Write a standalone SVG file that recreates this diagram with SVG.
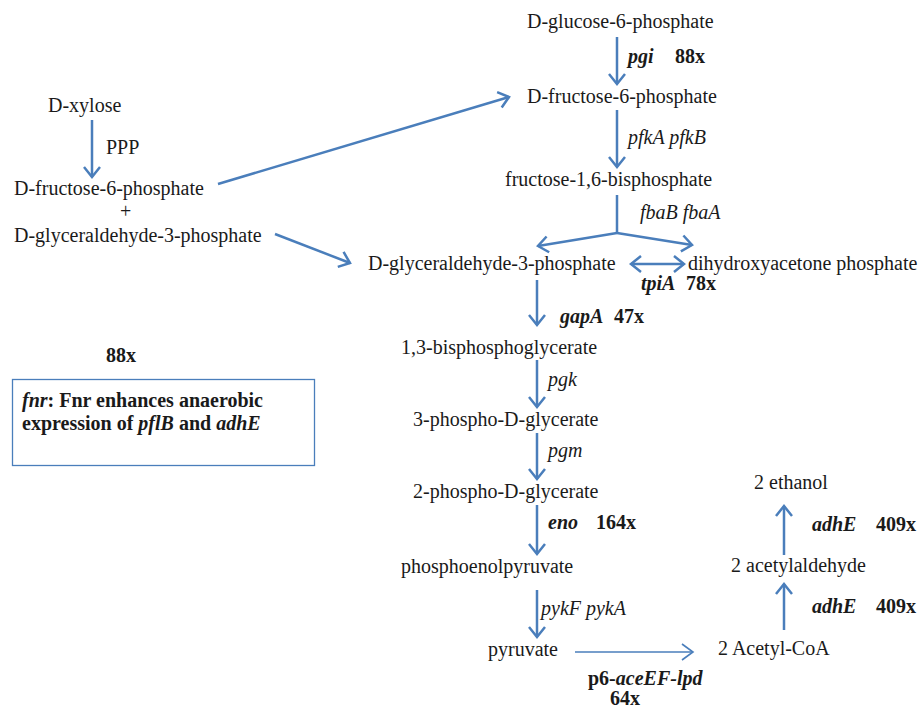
<svg xmlns="http://www.w3.org/2000/svg" width="921" height="709" viewBox="0 0 921 709" font-family="'Liberation Serif', 'DejaVu Serif', serif">
<defs>
<style>
text{font-size:20px;fill:#1a1a1a}
.i{font-style:italic}
.b{font-weight:bold}
.bi{font-weight:bold;font-style:italic}
.c{fill:none;stroke:#4a7ebb;stroke-width:2.5}
.t{fill:none;stroke:#4a7ebb;stroke-width:1.6}
</style>
<marker id="ah" viewBox="-12 -12 24 24" markerWidth="24" markerHeight="24" markerUnits="userSpaceOnUse" refX="0" refY="0" orient="auto-start-reverse" overflow="visible">
<path d="M-10,-8 L0,0 L-10,8" fill="none" stroke="#4a7ebb" stroke-width="2.5"/>
</marker>
<marker id="ah2" viewBox="-12 -12 24 24" markerWidth="24" markerHeight="24" markerUnits="userSpaceOnUse" refX="0" refY="0" orient="auto" overflow="visible">
<path d="M-11,-8 L0,0 L-11,8" fill="none" stroke="#4a7ebb" stroke-width="1.6"/>
</marker>
</defs>
<rect width="921" height="709" fill="#fff"/>
<g id="connectors">
<line class="c" x1="617" y1="37" x2="617" y2="84" marker-end="url(#ah)"/>
<line class="c" x1="617" y1="110" x2="617" y2="167" marker-end="url(#ah)"/>
<line class="c" x1="617" y1="195" x2="617" y2="233"/>
<line class="c" x1="617" y1="233" x2="538" y2="246" marker-end="url(#ah)"/>
<line class="c" x1="617" y1="233" x2="692" y2="245" marker-end="url(#ah)"/>
<line class="c" x1="631" y1="264" x2="684" y2="264" marker-start="url(#ah)" marker-end="url(#ah)"/>
<line class="c" x1="537" y1="280" x2="537" y2="325" marker-end="url(#ah)"/>
<line class="c" x1="537" y1="360" x2="537" y2="407" marker-end="url(#ah)"/>
<line class="c" x1="537" y1="433" x2="537" y2="479" marker-end="url(#ah)"/>
<line class="c" x1="537" y1="505" x2="537" y2="554" marker-end="url(#ah)"/>
<line class="c" x1="537" y1="590" x2="537" y2="637" marker-end="url(#ah)"/>
<line class="t" x1="575" y1="652" x2="693" y2="652" marker-end="url(#ah2)"/>
<line class="c" x1="784" y1="630" x2="784" y2="584" marker-end="url(#ah)"/>
<line class="c" x1="784" y1="555" x2="784" y2="506" marker-end="url(#ah)"/>
<line class="c" x1="92" y1="120" x2="92" y2="177" marker-end="url(#ah)"/>
<line class="c" x1="218" y1="184" x2="509" y2="97" marker-end="url(#ah)"/>
<line class="c" x1="275" y1="234" x2="350" y2="263" marker-end="url(#ah)"/>
</g>
<g id="n-g6p"><text x="527" y="28">D-glucose-6-phosphate</text></g>
<g id="l-pgi"><text class="bi" x="628" y="63">pgi</text><text class="b" x="675" y="63">88x</text></g>
<g id="n-f6p"><text x="527" y="103">D-fructose-6-phosphate</text></g>
<g id="l-pfk"><text class="i" x="628" y="144">pfkA pfkB</text></g>
<g id="n-fbp"><text x="505" y="186">fructose-1,6-bisphosphate</text></g>
<g id="l-fba"><text class="i" x="640" y="219">fbaB fbaA</text></g>
<g id="n-g3p"><text x="368" y="270">D-glyceraldehyde-3-phosphate</text></g>
<g id="n-dhap"><text x="688" y="270">dihydroxyacetone phosphate</text></g>
<g id="l-tpi"><text class="bi" x="641" y="290">tpiA</text><text class="b" x="686" y="290">78x</text></g>
<g id="l-gap"><text class="bi" x="560" y="323">gapA</text><text class="b" x="614" y="323">47x</text></g>
<g id="n-13bpg"><text x="401" y="354">1,3-bisphosphoglycerate</text></g>
<g id="l-pgk"><text class="i" x="548" y="386">pgk</text></g>
<g id="n-3pg"><text x="413" y="426">3-phospho-D-glycerate</text></g>
<g id="l-pgm"><text class="i" x="548" y="457">pgm</text></g>
<g id="n-2pg"><text x="413" y="498">2-phospho-D-glycerate</text></g>
<g id="l-eno"><text class="bi" x="548" y="529">eno</text><text class="b" x="596" y="529">164x</text></g>
<g id="n-pep"><text x="401" y="573">phosphoenolpyruvate</text></g>
<g id="l-pyk"><text class="i" x="541" y="615">pykF pykA</text></g>
<g id="n-pyr"><text x="488" y="656">pyruvate</text></g>
<g id="l-ace"><text class="b" x="588" y="685">p6-<tspan class="i">aceEF-lpd</tspan></text><text class="b" x="610" y="705">64x</text></g>
<g id="n-accoa"><text x="718" y="655">2 Acetyl-CoA</text></g>
<g id="l-adh1"><text class="bi" x="812" y="613">adhE</text><text class="b" x="876" y="613">409x</text></g>
<g id="n-acald"><text x="731" y="572">2 acetylaldehyde</text></g>
<g id="l-adh2"><text class="bi" x="812" y="531">adhE</text><text class="b" x="876" y="531">409x</text></g>
<g id="n-etoh"><text x="754" y="489">2 ethanol</text></g>
<g id="n-xyl"><text x="48" y="112">D-xylose</text></g>
<g id="l-ppp"><text x="106" y="154">PPP</text></g>
<g id="n-left"><text x="14" y="195">D-fructose-6-phosphate</text><text x="120" y="218">+</text><text x="14" y="242">D-glyceraldehyde-3-phosphate</text></g>
<g id="l-fnr88"><text class="b" x="106" y="362">88x</text></g>
<g id="n-fnr"><rect x="12.5" y="379.5" width="302" height="86" fill="none" stroke="#4a7ebb" stroke-width="1.3"/>
<text class="b" x="22" y="407"><tspan class="i">fnr</tspan>: Fnr enhances anaerobic</text>
<text class="b" x="22" y="430">expression of <tspan class="i">pflB</tspan> and <tspan class="i">adhE</tspan></text></g>
</svg>
